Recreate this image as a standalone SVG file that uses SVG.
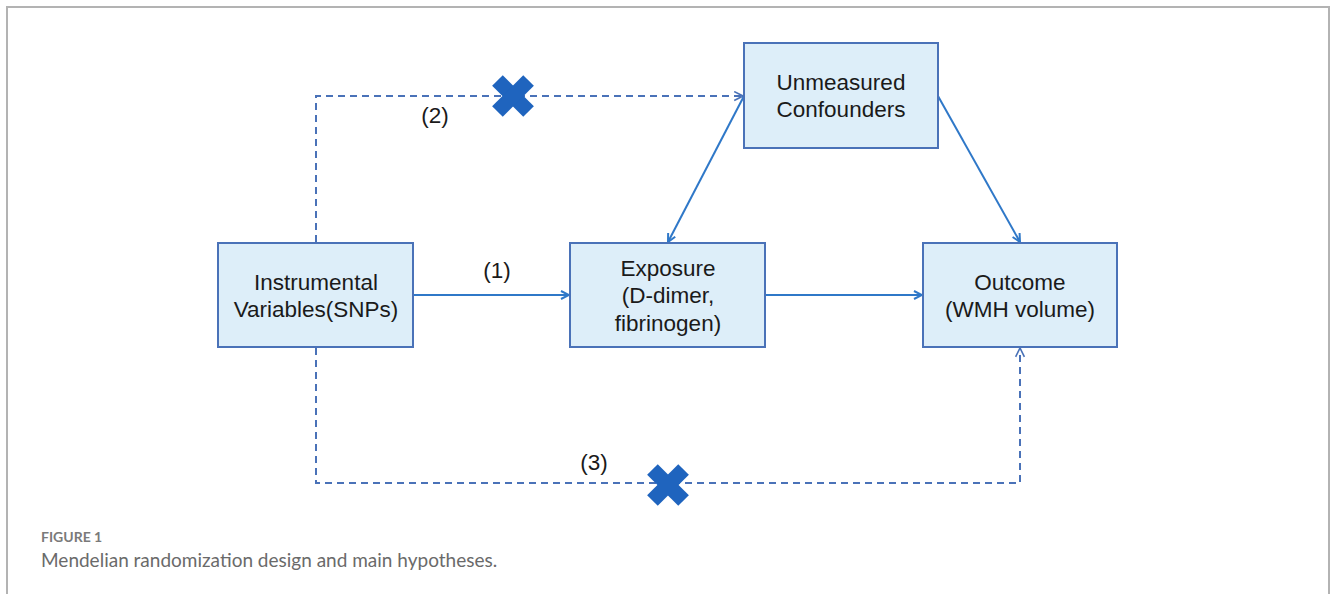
<svg xmlns="http://www.w3.org/2000/svg" width="1330" height="594" viewBox="0 0 1330 594">
<defs>
<style>
.box{fill:#ddeef9;stroke:#4a72b8;stroke-width:2}
.lbl{font-family:"Liberation Sans",Arial,sans-serif;font-size:22.5px;fill:#1a1a1a;text-anchor:middle}
.solid{fill:none;stroke:#2f78c8;stroke-width:2}
.dash{fill:none;stroke:#4a72b8;stroke-width:2;stroke-dasharray:7,5}
.xm{fill:#1f64be}
.frame{fill:none;stroke:#b3b3b3;stroke-width:2}
</style>
<marker id="ah" viewBox="0 0 10 10" refX="9" refY="5" markerWidth="10" markerHeight="10" markerUnits="userSpaceOnUse" orient="auto">
<path d="M1,1 L9,5 L1,9" fill="none" stroke="#2f78c8" stroke-width="2"/>
</marker>
<marker id="ahd" viewBox="0 0 10 10" refX="9" refY="5" markerWidth="11" markerHeight="11" markerUnits="userSpaceOnUse" orient="auto">
<path d="M1,1 L9,5 L1,9" fill="none" stroke="#4a72b8" stroke-width="1.5"/>
</marker>
<g id="xmark">
<rect x="-22" y="-7.5" width="44" height="15" class="xm" transform="rotate(45)"/>
<rect x="-22" y="-7.5" width="44" height="15" class="xm" transform="rotate(-45)"/>
</g>
</defs>
<rect width="1330" height="594" fill="#ffffff"/>
<path class="frame" d="M7,594 V7 H1329 V594"/>

<g id="connectors">
<path class="dash" d="M316,242 V96 H743" marker-end="url(#ahd)"/>
<path class="dash" d="M316,348 V483 H1020 V348" marker-end="url(#ahd)"/>
<line class="solid" x1="413" y1="295" x2="569" y2="295" marker-end="url(#ah)"/>
<line class="solid" x1="765" y1="295" x2="922" y2="295" marker-end="url(#ah)"/>
<line class="solid" x1="744" y1="96" x2="668" y2="242" marker-end="url(#ah)"/>
<line class="solid" x1="938" y1="96" x2="1020" y2="242" marker-end="url(#ah)"/>
<use href="#xmark" x="513" y="96"/>
<use href="#xmark" x="668" y="485"/>
<text class="lbl" x="497" y="278">(1)</text>
<text class="lbl" x="435" y="123">(2)</text>
<text class="lbl" x="594" y="470">(3)</text>
</g>

<g id="iv">
<rect class="box" x="218" y="243" width="195" height="104"/>
<text class="lbl" x="316" y="290">Instrumental</text>
<text class="lbl" x="316" y="317">Variables(SNPs)</text>
</g>
<g id="exposure">
<rect class="box" x="570" y="243" width="195" height="104"/>
<text class="lbl" x="668" y="276">Exposure</text>
<text class="lbl" x="668" y="303">(D-dimer,</text>
<text class="lbl" x="668" y="331">fibrinogen)</text>
</g>
<g id="outcome">
<rect class="box" x="923" y="243" width="194" height="104"/>
<text class="lbl" x="1020" y="290">Outcome</text>
<text class="lbl" x="1020" y="317">(WMH volume)</text>
</g>
<g id="confounders">
<rect class="box" x="744" y="43" width="194" height="105"/>
<text class="lbl" x="841" y="90">Unmeasured</text>
<text class="lbl" x="841" y="117">Confounders</text>
</g>

<g id="caption">
<text x="41" y="542" font-family="Lato,'Open Sans',sans-serif" font-size="14" font-weight="bold" fill="#7a7a7a">FIGURE 1</text>
<text x="41" y="567" font-family="Lato,'Open Sans',sans-serif" font-size="19" fill="#6a6a6a">Mendelian randomization design and main hypotheses.</text>
</g>
</svg>
